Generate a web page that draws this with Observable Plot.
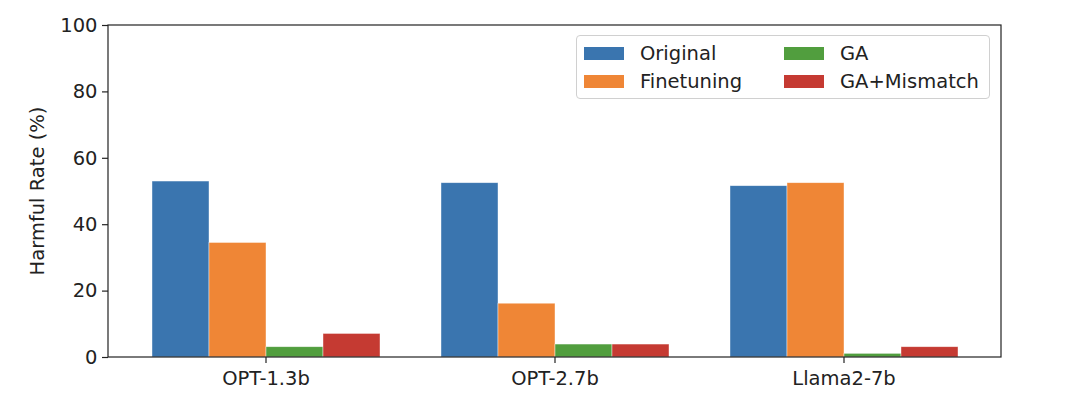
<!DOCTYPE html>
<html><head><meta charset="utf-8">
<script src="https://cdn.jsdelivr.net/npm/d3@7"></script>
<script src="https://cdn.jsdelivr.net/npm/@observablehq/plot@0.6"></script>
<style>
body{margin:0;background:#fff;}
#wrap{position:relative;width:1080px;height:398px;}
.legend{position:absolute;left:576px;top:35px;width:414px;height:64px;border:1px solid #d0d0d0;border-radius:4px;box-sizing:border-box;background:rgba(255,255,255,0.85);font-family:"DejaVu Sans";font-size:19.5px;color:#222;}
.item{position:absolute;display:flex;align-items:center;height:20px;}
.sw{width:40px;height:13px;margin-right:16px;}
</style></head><body><div id="wrap"></div>
<script>
const models = ["OPT-1.3b", "OPT-2.7b", "Llama2-7b"];
const methods = ["Original", "Finetuning", "GA", "GA+Mismatch"];
const original = [53.0, 52.5, 51.6];
const finetuning = [34.5, 16.2, 52.5];
const ga = [3.1, 3.9, 1.1];
const gaMismatch = [7.1, 3.9, 3.1];
const colors = ["#3a75af", "#ef8636", "#519e3e", "#c53a32"];
const yTicks = [0, 20, 40, 60, 80, 100];
const yLabel = "Harmful Rate (%)";

const series = [original, finetuning, ga, gaMismatch];
const rows = [];
models.forEach((m, i) => methods.forEach((s, j) => rows.push({model: m, method: s, value: series[j][i]})));

const W = 1080, H = 398, ML = 108, MR = 79, MT = 25, MB = 41;
const FS = "19.5px";
function makeChart(yDx) {
  return Plot.plot({
    width: W, height: H, marginLeft: ML, marginRight: MR, marginTop: MT, marginBottom: MB,
    style: {fontFamily: "DejaVu Sans", fontSize: FS, color: "#222", background: "#fff"},
    fx: {domain: models, paddingInner: 0.2, paddingOuter: 0.14, label: null},
    x: {domain: methods, padding: 0, axis: null},
    y: {domain: [0, 100], label: null},
    color: {domain: methods, range: colors},
    marks: [
      Plot.barY(rows, {fx: "model", x: "method", y: "value", fill: "method", stroke: "#ffffff", strokeOpacity: 0.6, strokeWidth: 0.7}),
      Plot.axisY({ticks: yTicks, tickSize: 6, tickPadding: 5, label: null, stroke: "#222", strokeWidth: 1.2, dx: yDx}),
      Plot.axisFx({anchor: "bottom", tickSize: 6, tickPadding: 8, label: null, stroke: "#222", strokeWidth: 1.2})
    ]
  });
}
const probe = makeChart(0);
const fxScale = probe.scale("fx");
const facetLeft = fxScale.apply(models[0]);
const chart = makeChart(ML - facetLeft);

const svg = d3.select(chart);
svg.append("rect").attr("x", ML).attr("y", MT).attr("width", W - ML - MR).attr("height", H - MT - MB)
  .attr("fill", "none").attr("stroke", "#222").attr("stroke-width", 1.2);
svg.append("text").attr("transform", `translate(38,${(MT + H - MB) / 2}) rotate(-90)`)
  .attr("text-anchor", "middle").attr("dominant-baseline", "middle")
  .attr("fill", "#222").style("font-size", FS).text(yLabel);
const wrap = document.getElementById("wrap");
wrap.appendChild(chart);

const lg = document.createElement("div");
lg.className = "legend";
const pos = [[7, 7], [7, 35], [207, 7], [207, 35]];
methods.forEach((m, i) => {
  const it = document.createElement("div");
  it.className = "item";
  it.style.left = pos[i][0] + "px"; it.style.top = pos[i][1] + "px";
  const sw = document.createElement("div"); sw.className = "sw"; sw.style.background = colors[i];
  const tx = document.createElement("span"); tx.textContent = m;
  it.appendChild(sw); it.appendChild(tx); lg.appendChild(it);
});
wrap.appendChild(lg);
</script></body></html>
